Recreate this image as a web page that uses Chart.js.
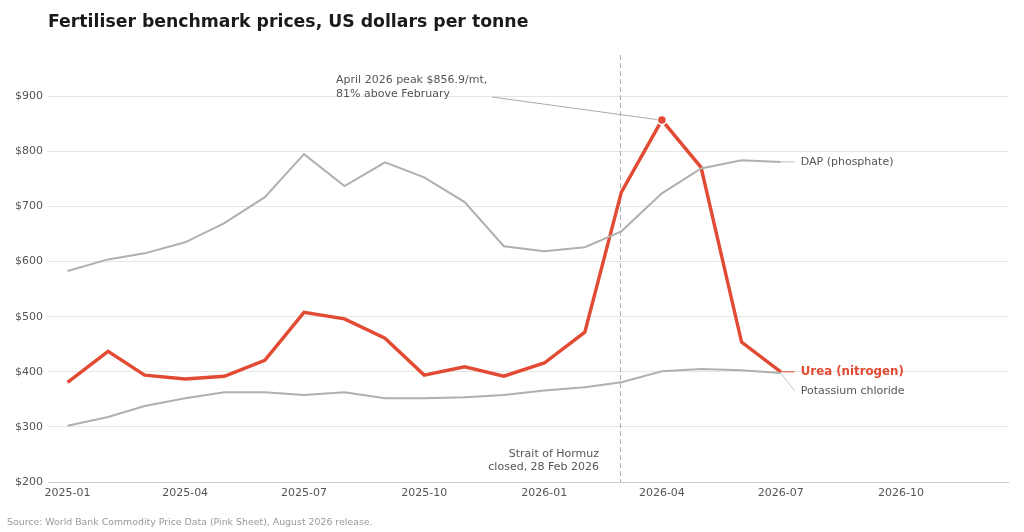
<!DOCTYPE html>
<html>
<head>
<meta charset="utf-8">
<script src="https://cdn.jsdelivr.net/npm/chart.js@4"></script>
<style>
  html, body { margin: 0; padding: 0; background: #fff; }
  #wrap { position: relative; width: 1024px; height: 532px; font-family: "DejaVu Sans", sans-serif; }
  #title { position: absolute; left: 48px; top: 11px; font-size: 17.3px; font-weight: bold; color: #1a1a1a; white-space: nowrap; }
  #source { position: absolute; left: 7px; top: 516px; font-size: 9.4px; color: #999; white-space: nowrap; }
  canvas { position: absolute; left: 0; top: 0; }
</style>
</head>
<body>
<div id="wrap">
  <canvas id="myChart" width="1024" height="532"></canvas>
  <div id="title">Fertiliser benchmark prices, US dollars per tonne</div>
  <div id="source">Source: World Bank Commodity Price Data (Pink Sheet), August 2026 release.</div>
</div>
<script>
// monthly benchmark prices, USD per tonne
var months = ['2025-01','2025-02','2025-03','2025-04','2025-05','2025-06','2025-07','2025-08','2025-09','2025-10',
              '2025-11','2025-12','2026-01','2026-02','2026-03','2026-04','2026-05','2026-06','2026-07'];
var urea   = [381, 437, 394, 387, 392, 421, 508, 496, 461, 394, 409, 392, 416, 472, 726, 856.9, 771, 454, 400];
var dap    = [583, 604, 615, 635, 670, 717, 795, 737, 780, 753, 708, 628, 619, 626, 655, 724, 769, 784, 781];
var potash = [302, 318, 338, 352, 363, 363, 358, 363, 352, 352, 354, 358, 366, 372, 381, 401, 405, 403, 398];

var xTickLabels = ['2025-01','2025-04','2025-07','2025-10','2026-01','2026-04','2026-07','2026-10'];
var yTickValues = [200, 300, 400, 500, 600, 700, 800, 900];
var closureDate = '2026-02-28';
var peakIndex = 15;

var RED = '#e24a33';
var GREY = '#b0b0ad';
var TEXT = '#555555';

// days since 2025-01-01
function dayOf(s) {
    var p = s.split('-');
    var d = p.length > 2 ? +p[2] : 1;
    return (Date.UTC(+p[0], +p[1] - 1, d) - Date.UTC(2025, 0, 1)) / 86400000;
}
function toPoints(vals) {
    return vals.map(function (v, i) { return { x: dayOf(months[i]), y: v }; });
}

var tickDays = xTickLabels.map(dayOf);
var labelByDay = {};
xTickLabels.forEach(function (l) { labelByDay[dayOf(l)] = l; });

var annotations = {
    id: 'annotations',
    beforeDatasetsDraw: function (chart) {
        var ctx = chart.ctx, x = chart.scales.x, a = chart.chartArea;
        var px = Math.round(x.getPixelForValue(dayOf(closureDate))) + 0.5;
        ctx.save();
        ctx.strokeStyle = '#aaaaaa';
        ctx.lineWidth = 1;
        ctx.setLineDash([5, 3]);
        ctx.beginPath();
        ctx.moveTo(px, a.top);
        ctx.lineTo(px, a.bottom);
        ctx.stroke();
        ctx.restore();
    },
    afterDatasetsDraw: function (chart) {
        var ctx = chart.ctx, x = chart.scales.x, y = chart.scales.y;
        var last = months.length - 1;
        var lx = x.getPixelForValue(dayOf(months[last]));
        ctx.save();
        ctx.font = '11px "DejaVu Sans"';
        ctx.textBaseline = 'middle';

        // Hormuz note
        var hx = x.getPixelForValue(dayOf(closureDate));
        ctx.fillStyle = TEXT;
        ctx.textAlign = 'right';
        ctx.fillText('Strait of Hormuz', hx - 21, 454);
        ctx.fillText('closed, 28 Feb 2026', hx - 21, 467.5);

        // peak note
        var pkx = x.getPixelForValue(dayOf(months[peakIndex]));
        var pky = y.getPixelForValue(urea[peakIndex]);
        ctx.textAlign = 'left';
        ctx.fillText('April 2026 peak $856.9/mt,', 336, 80);
        ctx.fillText('81% above February', 336, 94);
        ctx.strokeStyle = '#aaaaaa';
        ctx.lineWidth = 1;
        ctx.beginPath();
        ctx.moveTo(492, 97);
        ctx.lineTo(pkx - 5, pky - 0.5);
        ctx.stroke();

        // end labels
        var dy = y.getPixelForValue(dap[last]);
        var uy = y.getPixelForValue(urea[last]);
        var ky = y.getPixelForValue(potash[last]);
        ctx.lineWidth = 1;
        ctx.strokeStyle = '#c4c4c4';
        ctx.beginPath();
        ctx.moveTo(lx, dy); ctx.lineTo(lx + 14, dy);
        ctx.moveTo(lx, ky); ctx.lineTo(lx + 14, ky + 18);
        ctx.stroke();
        ctx.strokeStyle = RED;
        ctx.beginPath();
        ctx.moveTo(lx, uy); ctx.lineTo(lx + 14, uy);
        ctx.stroke();

        ctx.fillStyle = TEXT;
        ctx.fillText('DAP (phosphate)', lx + 20, dy);
        ctx.fillText('Potassium chloride', lx + 20, ky + 18);
        ctx.fillStyle = RED;
        ctx.font = 'bold 11.8px "DejaVu Sans"';
        ctx.fillText('Urea (nitrogen)', lx + 20, uy);
        ctx.restore();
    }
};

var chartdata = {
    datasets: [
        {
            label: 'DAP (phosphate)',
            data: toPoints(dap),
            borderColor: GREY,
            borderWidth: 2,
            pointRadius: 0
        },
        {
            label: 'Potassium chloride',
            data: toPoints(potash),
            borderColor: GREY,
            borderWidth: 2,
            pointRadius: 0
        },
        {
            label: 'Urea (nitrogen)',
            data: toPoints(urea),
            borderColor: RED,
            backgroundColor: RED,
            borderWidth: 3.4,
            pointRadius: urea.map(function (v, i) { return i === peakIndex ? 4.5 : 0; }),
            pointBorderColor: '#ffffff',
            pointBorderWidth: 1.5,
            pointBackgroundColor: RED
        }
    ]
};

var graphTarget = document.getElementById('myChart');

var lineGraph = new Chart(graphTarget, {
    type: 'line',
    data: chartdata,
    plugins: [annotations],
    options: {
        responsive: false,
        animation: false,
        events: [],
        layout: { padding: { top: 55, right: 16, left: 0, bottom: 0 } },
        plugins: { legend: { display: false }, tooltip: { enabled: false } },
        scales: {
            x: {
                type: 'linear',
                min: -15,
                max: 720,
                afterFit: function (s) { s.height = 50; },
                afterBuildTicks: function (s) {
                    s.ticks = tickDays.map(function (d) { return { value: d }; });
                },
                ticks: {
                    autoSkip: false,
                    maxRotation: 0,
                    padding: 5,
                    color: TEXT,
                    font: { family: 'DejaVu Sans', size: 11 },
                    callback: function (v) { return labelByDay[v] || ''; }
                },
                grid: { display: false, drawTicks: false },
                border: { display: true, color: '#cccccc', width: 1 }
            },
            y: {
                min: 200,
                max: 975,
                afterFit: function (s) { s.width = 48; },
                afterBuildTicks: function (s) {
                    s.ticks = yTickValues.map(function (v) { return { value: v }; });
                },
                ticks: {
                    padding: 5,
                    color: TEXT,
                    font: { family: 'DejaVu Sans', size: 11 },
                    callback: function (v) { return '$' + v; }
                },
                grid: {
                    color: function (c) { return c.tick && c.tick.value === 200 ? 'rgba(0,0,0,0)' : '#e8e6e1'; },
                    drawTicks: false
                },
                border: { display: false }
            }
        }
    }
});
</script>
</body>
</html>
